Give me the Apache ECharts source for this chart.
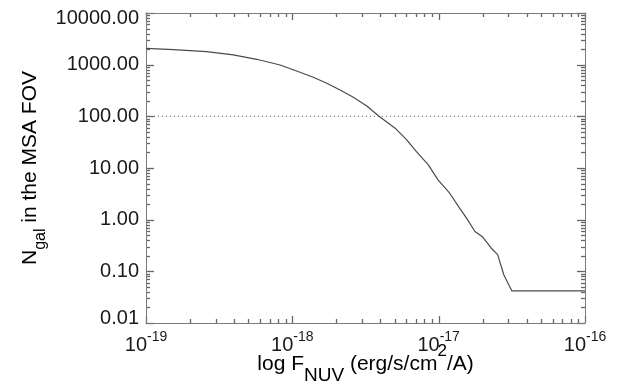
<!DOCTYPE html>
<html>
<head>
<meta charset="utf-8">
<style>
  html, body { margin: 0; padding: 0; background: #fff; }
  #chart { width: 621px; height: 384px; }
</style>
<script src="https://cdn.jsdelivr.net/npm/echarts@6/dist/echarts.min.js"></script>
</head>
<body>
<div id="chart"></div>
<script>
// NUV flux limit (erg/s/cm^2/A) and the galaxy count expected in the MSA field of view
const flux = [
  1e-19, 1.54e-19, 2.60e-19, 3.95e-19, 5.71e-19, 8.24e-19,
  1.07e-18, 1.39e-18, 1.72e-18, 2.12e-18, 2.61e-18, 3.23e-18, 3.87e-18,
  5.04e-18, 6.05e-18, 7.05e-18, 8.5e-18, 9.9e-18,
  1.19e-17, 1.39e-17, 1.55e-17, 1.77e-17, 2.0e-17, 2.29e-17, 2.53e-17,
  2.79e-17, 3.16e-17, 1e-16
];
const nGal = [
  2075, 1954, 1786, 1542, 1271, 986,
  755, 570, 437, 324, 234, 159, 103,
  59, 35, 20.7, 11.5, 5.9,
  3.25, 1.67, 1.07, 0.59, 0.46, 0.28, 0.21,
  0.085, 0.042, 0.042
];

// reference level drawn as a dotted line
const refLevel = 100;

// axis ranges
const X_MIN = 1e-19, X_MAX = 1e-16;
const Y_MIN = 0.01, Y_MAX = 10000;

// major (decade) and minor (2..9 within each decade) tick positions
const xMajorTicks = [1e-19, 1e-18, 1e-17, 1e-16];
const xMinorTicks = [
  2e-19, 3e-19, 4e-19, 5e-19, 6e-19, 7e-19, 8e-19, 9e-19,
  2e-18, 3e-18, 4e-18, 5e-18, 6e-18, 7e-18, 8e-18, 9e-18,
  2e-17, 3e-17, 4e-17, 5e-17, 6e-17, 7e-17, 8e-17, 9e-17
];
const yMajorTicks = [0.01, 0.1, 1, 10, 100, 1000, 10000];
const yMinorTicks = [
  0.02, 0.03, 0.04, 0.05, 0.06, 0.07, 0.08, 0.09,
  0.2, 0.3, 0.4, 0.5, 0.6, 0.7, 0.8, 0.9,
  2, 3, 4, 5, 6, 7, 8, 9,
  20, 30, 40, 50, 60, 70, 80, 90,
  200, 300, 400, 500, 600, 700, 800, 900,
  2000, 3000, 4000, 5000, 6000, 7000, 8000, 9000
];

const FONT = '"Liberation Sans", Arial, Helvetica, sans-serif';
const AXIS_COLOR = '#7a7a7a';
const TICK_COLOR = '#666666';
const TEXT_COLOR = '#1a1a1a';
const X_MAJOR_LEN = 7, Y_MAJOR_LEN = 8;
const MINOR_LEN = 4;

const chart = echarts.init(document.getElementById('chart'), null, { renderer: 'canvas' });

function baseXAxis(position, showLabels) {
  return {
    type: 'log',
    logBase: 10,
    min: X_MIN,
    max: X_MAX,
    interval: 1,
    position: position,
    splitLine: { show: false },
    axisLine: { show: true, lineStyle: { color: AXIS_COLOR, width: 1 } },
    axisTick: { show: false },
    axisLabel: {
      show: showLabels,
      margin: 7,
      showMinLabel: true,
      showMaxLabel: true,
      formatter: v => '{b|10}{s|' + Math.round(Math.log10(v)) + '}',
      rich: {
        b: { fontFamily: FONT, fontSize: 20, color: TEXT_COLOR, lineHeight: 25, verticalAlign: 'bottom' },
        s: { fontFamily: FONT, fontSize: 14, color: TEXT_COLOR, lineHeight: 13, verticalAlign: 'top' }
      }
    }
  };
}

function baseYAxis(position, showLabels) {
  return {
    type: 'log',
    logBase: 10,
    min: Y_MIN,
    max: Y_MAX,
    interval: 1,
    position: position,
    splitLine: { show: false },
    axisLine: { show: true, lineStyle: { color: AXIS_COLOR, width: 1 } },
    axisTick: { show: false },
    axisLabel: {
      show: showLabels,
      margin: 7,
      showMinLabel: true,
      showMaxLabel: true,
      formatter: v => {
        const txt = v.toFixed(2);
        if (Math.abs(v - Y_MAX) < 1e-6) return '{hi|' + txt + '}';
        if (Math.abs(v - Y_MIN) < 1e-9) return '{lo|' + txt + '}';
        return '{n|' + txt + '}';
      },
      rich: {
        n: { fontFamily: FONT, fontSize: 20, color: TEXT_COLOR },
        hi: { fontFamily: FONT, fontSize: 20, color: TEXT_COLOR, padding: [10, 0, 0, 0] },
        lo: { fontFamily: FONT, fontSize: 20, color: TEXT_COLOR, padding: [0, 0, 10, 0] }
      }
    }
  };
}

const points = flux.map((f, i) => [f, nGal[i]]);

chart.setOption({
  animation: false,
  backgroundColor: '#ffffff',
  grid: { left: 146, right: 36, top: 13, bottom: 61, containLabel: false },
  xAxis: [baseXAxis('bottom', true), baseXAxis('top', false)],
  yAxis: [baseYAxis('left', true), baseYAxis('right', false)],
  series: [
    {
      type: 'line',
      xAxisIndex: 0, yAxisIndex: 0,
      silent: true,
      showSymbol: false,
      data: [[X_MIN, refLevel], [X_MAX, refLevel]],
      lineStyle: { color: '#666', width: 1, type: [1, 3] },
      z: 2
    },
    {
      type: 'line',
      xAxisIndex: 0, yAxisIndex: 0,
      silent: true,
      showSymbol: false,
      data: points,
      lineStyle: { color: '#4a4a4a', width: 1.2 },
      z: 3
    }
  ]
});

// Inward ticks on all four frame edges, placed through the axes' own scales
const finder = { xAxisIndex: 0, yAxisIndex: 0 };
const cornerLo = chart.convertToPixel(finder, [X_MIN, Y_MIN]);
const cornerHi = chart.convertToPixel(finder, [X_MAX, Y_MAX]);
const frameLeft = cornerLo[0], frameRight = cornerHi[0];
const frameBottom = cornerLo[1], frameTop = cornerHi[1];

const tickElements = [];
function pushTick(x1, y1, x2, y2) {
  tickElements.push({
    type: 'line',
    shape: { x1: x1, y1: y1, x2: x2, y2: y2 },
    style: { stroke: TICK_COLOR, lineWidth: 1.3 }
  });
}
function addXTick(v, len) {
  const px = Math.round(chart.convertToPixel(finder, [v, Y_MIN])[0]) + 0.5;
  pushTick(px, frameBottom, px, frameBottom - len);
  pushTick(px, frameTop, px, frameTop + len);
}
function addYTick(v, len) {
  const py = Math.round(chart.convertToPixel(finder, [X_MIN, v])[1]) + 0.5;
  pushTick(frameLeft, py, frameLeft + len, py);
  pushTick(frameRight, py, frameRight - len, py);
}
xMajorTicks.forEach(v => addXTick(v, X_MAJOR_LEN));
xMinorTicks.forEach(v => addXTick(v, MINOR_LEN));
yMajorTicks.forEach(v => addYTick(v, Y_MAJOR_LEN));
yMinorTicks.forEach(v => addYTick(v, MINOR_LEN));

// Axis titles with sub/superscripts
const titles = [
  {
    type: 'text',
    x: (frameLeft + frameRight) / 2,
    y: 364,
    style: {
      text: '{m|log F}{sub|NUV}{m| (erg/s/cm}{sup|2}{m|/A)}',
      align: 'center',
      verticalAlign: 'middle',
      rich: {
        m: { fontFamily: FONT, fontSize: 21, color: TEXT_COLOR, lineHeight: 42 },
        sub: { fontFamily: FONT, fontSize: 19, color: TEXT_COLOR, lineHeight: 17, verticalAlign: 'bottom' },
        sup: { fontFamily: FONT, fontSize: 17, color: TEXT_COLOR, lineHeight: 26, verticalAlign: 'top' }
      }
    }
  },
  {
    type: 'text',
    x: 30,
    y: (frameTop + frameBottom) / 2,
    rotation: Math.PI / 2,
    style: {
      text: '{m|N}{sub|gal}{m| in the MSA FOV}',
      align: 'center',
      verticalAlign: 'middle',
      rich: {
        m: { fontFamily: FONT, fontSize: 21, color: TEXT_COLOR, lineHeight: 38 },
        sub: { fontFamily: FONT, fontSize: 16, color: TEXT_COLOR, lineHeight: 16, verticalAlign: 'bottom' }
      }
    }
  }
];

chart.setOption({ graphic: tickElements.concat(titles) });
</script>
</body>
</html>
